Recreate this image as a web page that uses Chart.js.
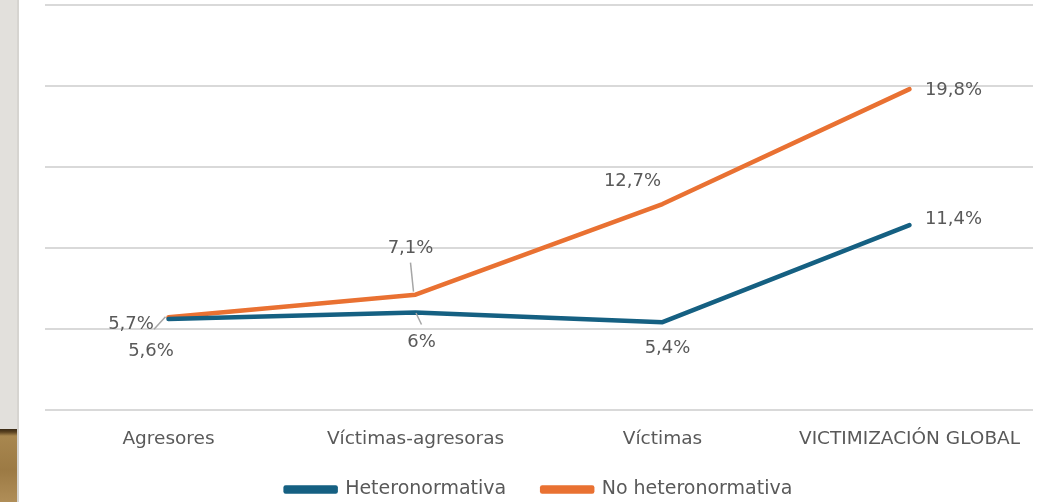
<!DOCTYPE html>
<html><head><meta charset="utf-8">
<script src="https://cdn.jsdelivr.net/npm/chart.js@4/dist/chart.umd.min.js"></script>
<style>
html,body{margin:0;padding:0;background:#fff;width:1045px;height:502px;overflow:hidden;}
#strip{position:absolute;left:0;top:0;width:17px;height:502px;background:linear-gradient(to bottom,#e2e0dc 0,#e2e0dc 429px,#3a2a15 429px,#5a4220 432px,#a8874f 436px,#9c7a44 470px,#b08e58 502px);border-right:2px solid #d6d4d0;}
#wrap{position:absolute;left:0;top:0;width:1045px;height:502px;}
</style></head>
<body>
<div id="strip"></div>
<div id="wrap"><canvas id="c" width="1045" height="502"></canvas></div>
<script>
const categories = ['Agresores', 'Víctimas-agresoras', 'Víctimas', 'VICTIMIZACIÓN GLOBAL'];
const heteronormativa = [5.6, 6, 5.4, 11.4];
const noHeteronormativa = [5.7, 7.1, 12.7, 19.8];
const heteroLabels = ['5,6%', '6%', '5,4%', '11,4%'];
const noHeteroLabels = ['5,7%', '7,1%', '12,7%', '19,8%'];
const yTicks = [0, 5, 10, 15, 20, 25];

const FONT = "'DejaVu Sans', sans-serif";
const TXT = '#595959';

// label offsets (dx, dy from point) and optional leader line
const labelPlacement = [
  [ {dx:-17.5, dy:32}, {dx:6, dy:30, leader:[[0.5,0.5],[6,12]]}, {dx:5, dy:26}, {dx:44, dy:-6} ],
  [ {dx:-37.5, dy:7, leader:[[-14.5,12],[-3,-0.5]]}, {dx:-5, dy:-46, leader:[[-5,-32],[-2,-3]]}, {dx:-30, dy:-23}, {dx:44, dy:1} ]
];
const labelTexts = [heteroLabels, noHeteroLabels];

const labelPlugin = {
  id: 'dl',
  afterLayout(chart) {
    // let the x tick labels extend below their box (avoid clipping descenders)
    chart.scales.x.bottom += 12;
  },
  afterDatasetsDraw(chart) {
    const ctx = chart.ctx;
    ctx.save();
    ctx.font = "18px " + FONT;
    ctx.fillStyle = TXT;
    ctx.textAlign = 'center';
    ctx.textBaseline = 'middle';
    chart.data.datasets.forEach((ds, di) => {
      const meta = chart.getDatasetMeta(di);
      meta.data.forEach((pt, i) => {
        const p = labelPlacement[di][i];
        if (p.leader) {
          ctx.strokeStyle = '#a6a6a6';
          ctx.lineWidth = 1.5;
          ctx.beginPath();
          ctx.moveTo(pt.x + p.leader[0][0], pt.y + p.leader[0][1]);
          ctx.lineTo(pt.x + p.leader[1][0], pt.y + p.leader[1][1]);
          ctx.stroke();
        }
        ctx.fillText(labelTexts[di][i], pt.x + p.dx, pt.y + p.dy);
      });
    });
    ctx.restore();
  }
};

new Chart(document.getElementById('c'), {
  type: 'line',
  data: {
    labels: categories,
    datasets: [
      { label: 'Heteronormativa', data: heteronormativa, borderColor: '#156082', backgroundColor: '#156082', borderWidth: 4.5, pointRadius: 0, tension: 0, borderCapStyle: 'round', borderJoinStyle: 'round' },
      { label: 'No heteronormativa', data: noHeteronormativa, borderColor: '#E97132', backgroundColor: '#E97132', borderWidth: 4.5, pointRadius: 0, tension: 0, borderCapStyle: 'round', borderJoinStyle: 'round' }
    ]
  },
  options: {
    responsive: false,
    animation: false,
    devicePixelRatio: 1,
    layout: { padding: { left: 45, right: 12, top: 5, bottom: -7 } },
    plugins: {
      legend: {
        position: 'bottom',
        labels: { font: { family: FONT, size: 19 }, color: TXT, boxWidth: 50, boxHeight: 4, padding: 36 }
      },
      tooltip: { enabled: false }
    },
    scales: {
      x: {
        offset: true,
        grid: { display: false },
        border: { display: false },
        ticks: { font: { family: FONT, size: 18.5 }, color: TXT, padding: 10, maxRotation: 0 },
        afterFit(axis) { axis.height = 34.4; }
      },
      y: {
        min: yTicks[0], max: yTicks[yTicks.length - 1],
        afterBuildTicks(axis) { axis.ticks = yTicks.map(v => ({ value: v })); },
        grid: { color: '#d9d9d9', lineWidth: 2, drawTicks: false },
        border: { display: false },
        ticks: { display: false }
      }
    }
  },
  plugins: [labelPlugin]
});
</script>
</body></html>
